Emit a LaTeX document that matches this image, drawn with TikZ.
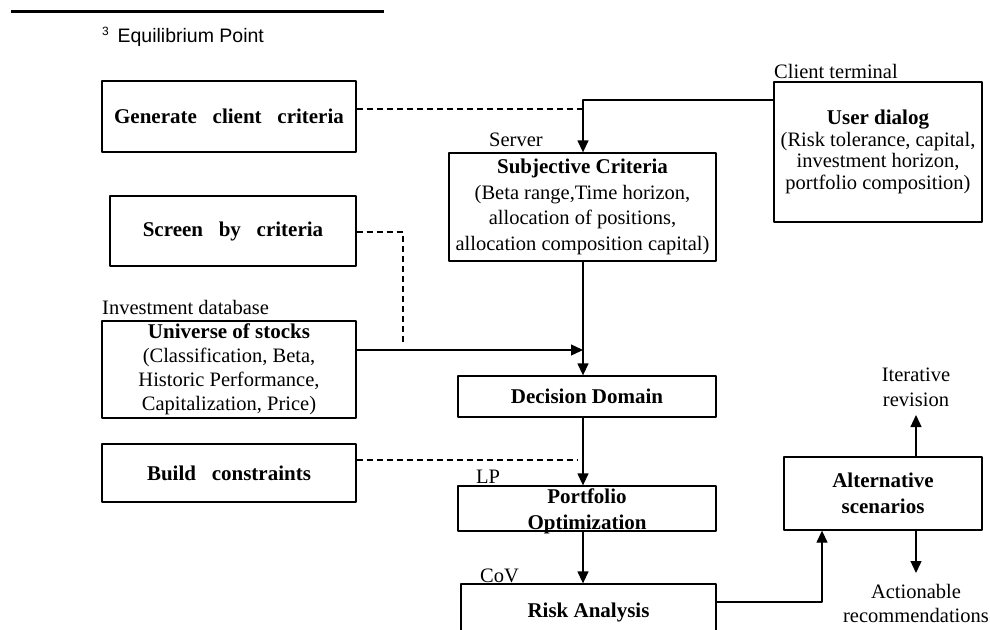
\documentclass[tikz,border=0pt]{standalone}
\usepackage{fontspec}
\setmainfont{Liberation Serif}
\newfontfamily\footfont{Liberation Sans}
\usetikzlibrary{arrows.meta}
\newcommand{\gap}{\hspace{0.75em}}
\newcommand{\hd}{\fontsize{21}{25}\selectfont\bfseries}

\begin{document}
\begin{tikzpicture}[x=1pt, y=-1pt, line join=round, >={Triangle[length=12pt,width=11pt]},
	font=\fontsize{20.5}{24}\selectfont,
	box/.style={draw, line width=1.3pt, inner sep=0pt, align=center},
	link/.style={line width=1.3pt},
	dlink/.style={line width=1.1pt, dash pattern=on 6pt off 4pt},
	tag/.style={inner sep=0pt}]
	\useasboundingbox (0,0) rectangle (990,629);
	\clip (0,0) rectangle (990,629);
	% footnote
	\draw[line width=3pt] (11,11.5) -- (384,11.5);
	\node[tag, anchor=base west, font=\footfont\fontsize{19.5}{22}\selectfont] (foot) at (102,42) {\raisebox{7pt}{\fontsize{12}{12}\selectfont 3}\hspace{0.45em}Equilibrium Point};
	% left column
	\node[box, minimum width=254, minimum height=71] (gen) at (229,116.5) {\hd Generate\gap client\gap criteria};
	\node[box, minimum width=246, minimum height=70] (screen) at (233,231) {\hd Screen\gap by\gap criteria};
	\node[box, minimum width=254, minimum height=97] (stocks) at (229,369.5) {{\hd Universe of stocks}\\(Classification, Beta,\\Historic Performance,\\Capitalization, Price)};
	\node[box, minimum width=254, minimum height=58] (build) at (229,473) {\hd Build\gap constraints};
	% middle column
	\node[box, minimum width=267, minimum height=108, font=\fontsize{20.5}{25.5}\selectfont] (subj) at (582.5,207) {{\hd Subjective Criteria}\\(Beta range,Time horizon,\\allocation of positions,\\allocation composition capital)};
	\node[box, minimum width=258, minimum height=41] (dec) at (587,396.5) {\hd Decision Domain};
	\node[box, minimum width=258, minimum height=45] (port) at (587,508.5) {};
	\node[tag, align=center, font=\fontsize{21}{26}\selectfont\bfseries] (porttxt) at (587,511) {Portfolio\\Optimization};
	\node[box, minimum width=255, minimum height=56] (risk) at (588.5,612) {\hd Risk Analysis};
	% right column
	\node[box, minimum width=208, minimum height=140, font=\fontsize{20.5}{21.5}\selectfont] (user) at (878,152) {{\hd User dialog}\\(Risk tolerance, capital,\\investment horizon,\\portfolio composition)};
	\node[box, minimum width=198, minimum height=73, font=\fontsize{21}{26}\selectfont\bfseries] (alt) at (883,493.5) {Alternative\\scenarios};
	% small labels
	\node[tag, anchor=base west] (client) at (774,78) {Client terminal};
	\node[tag, anchor=base west] (server) at (489,146) {Server};
	\node[tag, anchor=base west] (db) at (102,314) {Investment database};
	\node[tag, anchor=base west] (lp) at (476,483) {LP};
	\node[tag, anchor=base west] (cov) at (480,582) {CoV};
	\node[tag, align=center, font=\fontsize{20.5}{25}\selectfont] (iter) at (916,387) {Iterative\\revision};
	\node[tag, align=center] (act) at (916,603) {Actionable\\recommendations};
	% connectors
	\coordinate (top) at (583,100);
	\coordinate (gd) at (583,109);
	\coordinate (sd) at (403,232);
	\coordinate (sdend) at (403,345);
	\coordinate (sj) at (583,350);
	\coordinate (bd) at (578,460);
	\coordinate (ra) at (822,602);
	\coordinate (itip) at (916,415);
	\coordinate (atip) at (916,573);
	\draw[link, ->] (user.west |- top) -- (top) -- (top |- subj.north);
	\draw[dlink] (gen.east |- gd) -- (gd);
	\draw[dlink] (screen.east |- sd) -- (sd) -- (sdend);
	\draw[link, ->] (stocks.east |- sj) -- (sj);
	\draw[link, ->] (subj.south -| sj) -- (sj |- dec.north);
	\draw[dlink] (build.east |- bd) -- (bd);
	\draw[link, ->] (dec.south -| sj) -- (sj |- port.north);
	\draw[link, ->] (port.south -| sj) -- (sj |- risk.north);
	\draw[link, ->] (risk.east |- ra) -- (ra) -- (ra |- alt.south);
	\draw[link, ->] (alt.north -| itip) -- (itip);
	\draw[link, ->] (alt.south -| atip) -- (atip);
\end{tikzpicture}
\end{document}
